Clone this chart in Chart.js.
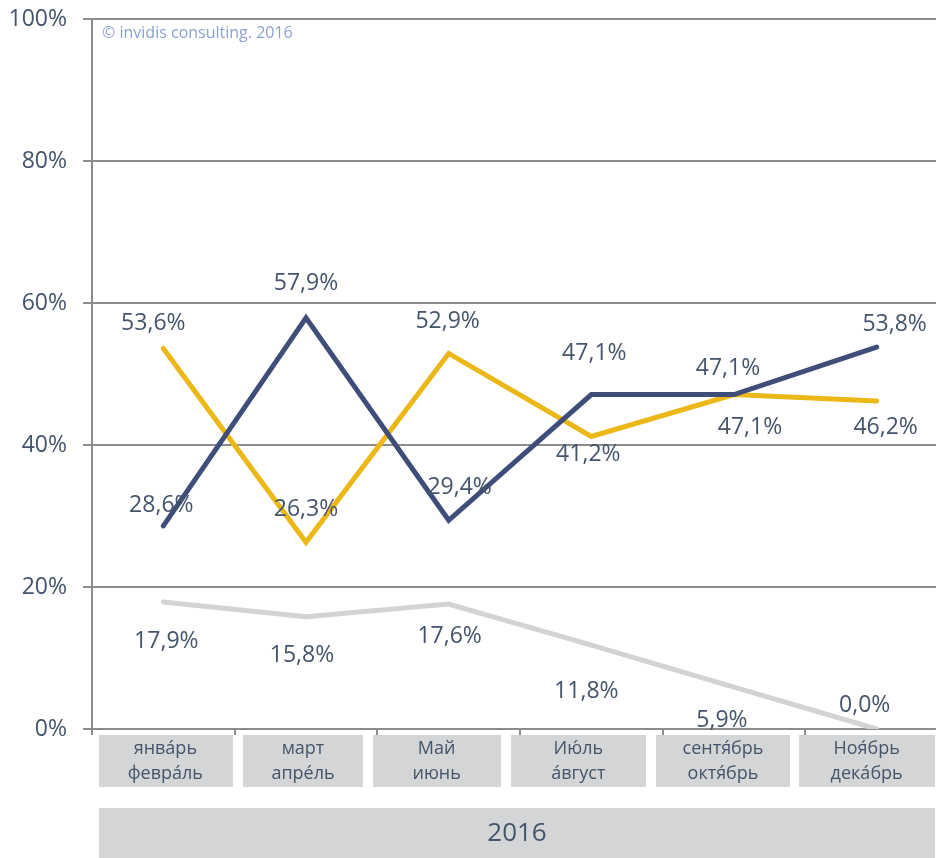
<!DOCTYPE html>
<html>
<head>
<meta charset="utf-8">
<script src="https://cdn.jsdelivr.net/npm/chart.js@4.4.0/dist/chart.umd.min.js"></script>
<style>
  html, body { margin: 0; padding: 0; background: #fff; overflow: hidden; }
  #wrap { width: 960px; height: 858px; position: relative; }
</style>
</head>
<body>
<div id="wrap"><canvas id="chart"></canvas></div>
<script>
// категории (два месяца на точку)
const months = [
  ['янва́рь', 'февра́ль'],
  ['март', 'апре́ль'],
  ['Май', 'июнь'],
  ['Ию́ль', 'а́вгуст'],
  ['сентя́брь', 'октя́брь'],
  ['Ноя́брь', 'дека́брь']
];
const yearLabel = '2016';
const yTicks = [0, 20, 40, 60, 80, 100];

const blueValues = [28.6, 57.9, 29.4, 47.1, 47.1, 53.8];
const yellowValues = [53.6, 26.3, 52.9, 41.2, 47.1, 46.2];
const greyValues = [17.9, 15.8, 17.6, 11.8, 5.9, 0.0];

const TEXT = '#44546A';
const FONT = '"Open Sans", "Noto Sans", sans-serif';

// where each value label sits relative to its point
const labelOffsets = [
  [[-2, -20], [0, -34], [11, -33], [3, -41], [-6, -26], [18, -23]],
  [[-10, -25], [0, -33], [-1, -32], [-3, 18], [16, 33], [9, 26]],
  [[3, 40], [-4, 39], [1, 32], [-5, 46], [-12, 33], [-12, -24]]
];

function fmt(v) {
  return v.toFixed(1).replace('.', ',') + '%';
}

const valueLabels = {
  id: 'valueLabels',
  afterDatasetsDraw(chart) {
    const ctx = chart.ctx;
    ctx.save();
    ctx.font = '23px ' + FONT;
    ctx.fillStyle = TEXT;
    ctx.textAlign = 'center';
    ctx.textBaseline = 'middle';
    chart.data.datasets.forEach((ds, di) => {
      chart.getDatasetMeta(di).data.forEach((pt, i) => {
        const off = labelOffsets[di][i];
        ctx.fillText(fmt(ds.data[i]), pt.x + off[0], pt.y + off[1]);
      });
    });
    ctx.restore();
  }
};

const categoryBoxes = {
  id: 'categoryBoxes',
  afterDraw(chart) {
    const ctx = chart.ctx;
    const x = chart.scales.x;
    ctx.save();
    const boxes = [[99, 233], [243, 363], [373, 501], [511, 646], [656, 790], [799, 935]];
    boxes.forEach((b, i) => {
      ctx.fillStyle = '#D4D5D7';
      ctx.fillRect(b[0], 735, b[1] - b[0], 52);
      ctx.fillStyle = TEXT;
      ctx.font = '18px ' + FONT;
      ctx.textAlign = 'center';
      ctx.textBaseline = 'middle';
      const cx = x.getPixelForValue(i) + [2, -3, -12, -13, -11, -10][i];
      ctx.fillText(months[i][0], cx, 749);
      ctx.fillText(months[i][1], cx, 774);
    });
    ctx.fillStyle = '#D4D5D7';
    ctx.fillRect(99, 808, 836, 50);
    ctx.fillStyle = TEXT;
    ctx.font = '26px ' + FONT;
    ctx.textAlign = 'center';
    ctx.textBaseline = 'middle';
    ctx.fillText(yearLabel, 517, 834);

    ctx.fillStyle = '#8C9FD0';
    ctx.font = '16px ' + FONT;
    ctx.textAlign = 'left';
    ctx.fillText('© invidis consulting. 2016', 102, 33);
    ctx.restore();
  }
};

new Chart(document.getElementById('chart'), {
  type: 'line',
  data: {
    labels: months.map(m => m.join(' ')),
    datasets: [
      { data: blueValues, borderColor: '#3E4E78', borderWidth: 5 },
      { data: yellowValues, borderColor: '#EBB817', borderWidth: 5 },
      { data: greyValues, borderColor: '#D3D3D5', borderWidth: 5 }
    ].map(d => Object.assign(d, { pointRadius: 0, tension: 0, fill: false, borderCapStyle: 'round', borderJoinStyle: 'miter' }))
  },
  options: {
    responsive: true,
    maintainAspectRatio: false,
    animation: false,
    layout: { padding: { top: 19, right: 12, left: 0, bottom: 0 } },
    plugins: { legend: { display: false }, tooltip: { enabled: false } },
    scales: {
      x: {
        offset: true,
        ticks: { display: false },
        grid: { offset: true, drawOnChartArea: false, drawTicks: true, tickLength: 6, color: '#8C8C8C', lineWidth: 2 },
        border: { color: '#8C8C8C', width: 2 },
        afterFit(scale) { scale.height = 129; }
      },
      y: {
        min: 0,
        max: 100,
        afterBuildTicks(scale) { scale.ticks = yTicks.map(v => ({ value: v })); },
        ticks: {
          padding: 16,
          color: TEXT,
          font: { family: FONT, size: 23 },
          callback: v => v + '%'
        },
        grid: { color: '#8C8C8C', lineWidth: 2, tickLength: 9 },
        border: { color: '#8C8C8C', width: 2 },
        afterFit(scale) {
          scale.width = 92;
          scale.paddingTop = 0;
          scale.paddingBottom = 0;
        }
      }
    }
  },
  plugins: [valueLabels, categoryBoxes]
});
</script>
</body>
</html>
